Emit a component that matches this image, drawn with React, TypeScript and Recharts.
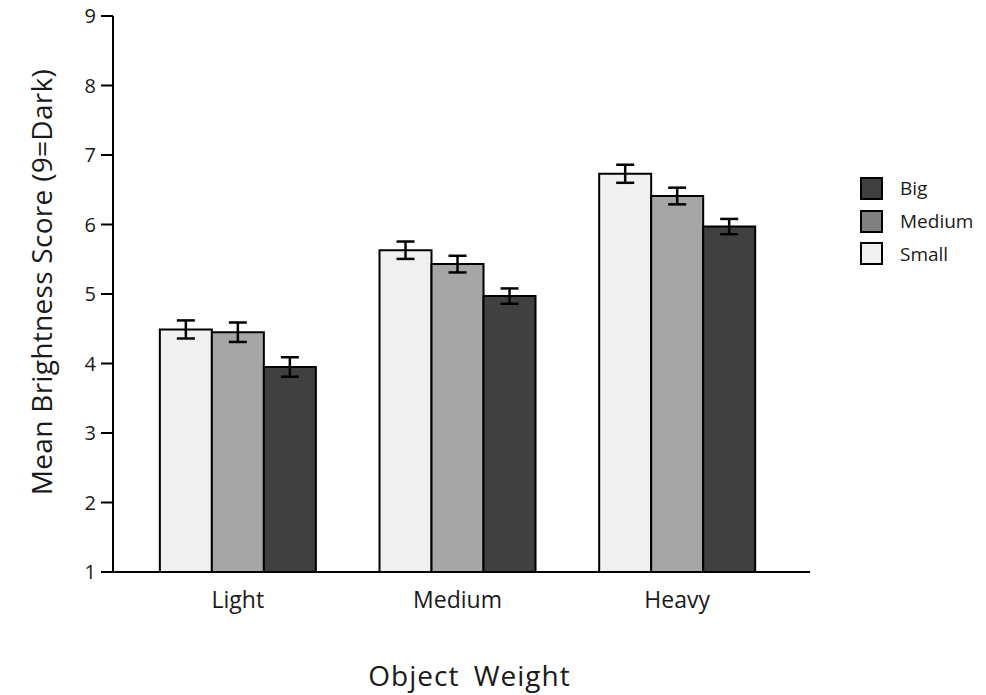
import React from 'react';
import { BarChart, Bar, XAxis, YAxis, ErrorBar, Legend, Label } from 'recharts';

// Mean brightness ratings by object weight, split by object size
const categories = ['Light', 'Medium', 'Heavy'];
const smallMeans = [4.49, 5.63, 6.73];
const smallErrors = [0.13, 0.125, 0.13];
const mediumMeans = [4.45, 5.43, 6.41];
const mediumErrors = [0.14, 0.12, 0.12];
const bigMeans = [3.95, 4.97, 5.97];
const bigErrors = [0.14, 0.11, 0.11];
const yTicks = [1, 2, 3, 4, 5, 6, 7, 8, 9];

const legendNames = ['Big', 'Medium', 'Small'];
const legendColors = ['#404040', '#808080', '#f0f0f0'];

const FONT = '"Open Sans", "DejaVu Sans", sans-serif';

const data = categories.map((name, i) => ({
  name,
  small: smallMeans[i],
  smallErr: smallErrors[i],
  medium: mediumMeans[i],
  mediumErr: mediumErrors[i],
  big: bigMeans[i],
  bigErr: bigErrors[i],
}));

const renderLegend = () => (
  <div style={{ fontFamily: FONT, fontSize: 19, color: '#1a1a1a' }}>
    {legendNames.map((name, i) => (
      <div key={name} style={{ display: 'flex', alignItems: 'center', height: 32.7 }}>
        <span
          style={{
            width: 19,
            height: 19,
            border: '2.5px solid #000',
            background: legendColors[i],
            display: 'inline-block',
          }}
        />
        <span style={{ marginLeft: 17 }}>{name}</span>
      </div>
    ))}
  </div>
);

const renderYLabel = (props: any) => {
  const vb = props.viewBox;
  const cx = vb.x + 41;
  const cy = vb.y + vb.height / 2 - 12;
  return (
    <text
      x={cx}
      y={cy}
      transform={`rotate(-90 ${cx} ${cy})`}
      textAnchor="middle"
      dominantBaseline="central"
      fontFamily={FONT}
      fontSize={28}
      letterSpacing={0.3}
      fill="#1a1a1a"
    >
      Mean Brightness Score (9=Dark)
    </text>
  );
};

export default function App() {
  return (
    <div style={{ position: 'absolute', left: 0, top: 0, width: 986, height: 695, background: '#fff' }}>
      <BarChart
        width={986}
        height={695}
        data={data}
        margin={{ top: 16, right: 176, bottom: 93, left: 0 }}
        barCategoryGap="14.5%"
        barGap={0}
      >
        <XAxis
          dataKey="name"
          height={30}
          padding={{ left: 15, right: 23 }}
          axisLine={{ stroke: '#000', strokeWidth: 2 }}
          tickLine={false}
          tickSize={6}
          tickMargin={14}
          tick={{ fill: '#1a1a1a', fontFamily: FONT, fontSize: 23 }}
        >
          <Label
            value="Object Weight"
            position="bottom"
            offset={64}
            dx={8}
            style={{ fontFamily: FONT, fontSize: 28, letterSpacing: 1, wordSpacing: 6, fill: '#1a1a1a' }}
          />
        </XAxis>
        <YAxis
          width={113}
          type="number"
          domain={[1, 9]}
          ticks={yTicks}
          interval={0}
          axisLine={{ stroke: '#000', strokeWidth: 2 }}
          tickLine={{ stroke: '#000', strokeWidth: 2 }}
          tickSize={12}
          tickMargin={5}
          tick={{ fill: '#1a1a1a', fontFamily: FONT, fontSize: 20 }}
        >
          <Label content={renderYLabel} />
        </YAxis>
        <Legend
          layout="vertical"
          align="center"
          verticalAlign="middle"
          content={renderLegend}
          wrapperStyle={{ left: 860, top: 172, width: 120, height: 100 }}
        />
        <Bar dataKey="small" fill="#f0f0f0" stroke="#000" strokeWidth={2} isAnimationActive={false}>
          <ErrorBar dataKey="smallErr" direction="y" width={9} stroke="#000" strokeWidth={2.5} />
        </Bar>
        <Bar dataKey="medium" fill="#a6a6a6" stroke="#000" strokeWidth={2} isAnimationActive={false}>
          <ErrorBar dataKey="mediumErr" direction="y" width={9} stroke="#000" strokeWidth={2.5} />
        </Bar>
        <Bar dataKey="big" fill="#404040" stroke="#000" strokeWidth={2} isAnimationActive={false}>
          <ErrorBar dataKey="bigErr" direction="y" width={9} stroke="#000" strokeWidth={2.5} />
        </Bar>
      </BarChart>
    </div>
  );
}
